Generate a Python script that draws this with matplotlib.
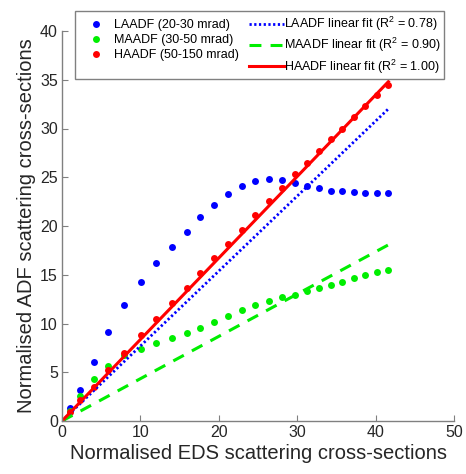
import matplotlib
matplotlib.use("Agg")
import matplotlib.pyplot as plt
import numpy as np

plt.rcParams['font.family'] = ['Liberation Sans', 'DejaVu Sans']
plt.rcParams['mathtext.fontset'] = 'custom'
plt.rcParams['mathtext.rm'] = 'Liberation Sans'
plt.rcParams['mathtext.it'] = 'Liberation Sans:italic'

# EDS cross-sections (x) shared by all series
eds = [0, 1.06, 2.34, 4.04, 5.87, 7.96, 10.13, 12.04, 14.05, 15.96, 17.66, 19.45,
       21.2, 22.9, 24.6, 26.39, 28.1, 29.7, 31.29, 32.77, 34.35, 35.76, 37.24,
       38.65, 40.14, 41.63]
laadf = [0, 1.3, 3.19, 6.09, 9.15, 11.92, 14.29, 16.21, 17.88, 19.42, 20.89, 22.2,
         23.3, 24.15, 24.6, 24.77, 24.67, 24.39, 24.08, 23.87, 23.64, 23.54, 23.45,
         23.42, 23.42, 23.42]
maadf = [0, 1.0, 2.57, 4.28, 5.65, 6.78, 7.43, 8.05, 8.56, 9.01, 9.53, 10.17,
         10.79, 11.34, 11.89, 12.33, 12.67, 12.97, 13.29, 13.62, 13.91, 14.29,
         14.65, 14.98, 15.24, 15.45]
haadf = [0, 0.92, 2.13, 3.5, 5.26, 6.99, 8.8, 10.45, 12.06, 13.6, 15.2, 16.7,
         18.2, 19.6, 21.1, 22.6, 23.9, 25.3, 26.5, 27.7, 28.9, 30.0, 31.2, 32.3,
         33.4, 34.5]

# linear fit slopes (through origin)
slope_l = 0.769
slope_m = 0.434
slope_h = 0.836

labels_pts = ['LAADF (20-30 mrad)', 'MAADF (30-50 mrad)', 'HAADF (50-150 mrad)']
labels_fit = ['LAADF linear fit (R$^2$ = 0.78)', 'MAADF linear fit (R$^2$ = 0.90)',
              'HAADF linear fit (R$^2$ = 1.00)']

blue, green, red = '#0000ff', '#00ee00', '#ff0000'

fig = plt.figure(figsize=(4.66, 4.74), dpi=100)
ax = fig.add_axes([62/466, 1-421/474, (454-62)/466, (421-31)/474])

x = np.array(eds)
xf = np.array([0, eds[-1]])

p1, = ax.plot(x, laadf, 'o', color=blue, ms=5, mec='none')
p2, = ax.plot(x, maadf, 'o', color=green, ms=5, mec='none')
p3, = ax.plot(x, haadf, 'o', color=red, ms=5, mec='none')
f1, = ax.plot(xf, slope_l*xf, color=blue, lw=2.0, linestyle=(0, (0.8, 0.9)))
f2, = ax.plot(xf, slope_m*xf, color=green, lw=2.2, linestyle=(0, (3.9, 3.0)))
f3, = ax.plot(xf, slope_h*xf, color=red, lw=2.2, linestyle='-')

ax.set_xlim(0, 50)
ax.set_ylim(0, 40)
ax.set_xticks(range(0, 51, 10))
ax.set_yticks(range(0, 41, 5))
for s in ['top', 'right']:
    ax.spines[s].set_visible(False)
for s in ['left', 'bottom']:
    ax.spines[s].set_color('#808080')
    ax.spines[s].set_linewidth(1.0)
ax.tick_params(direction='in', length=4, color='#808080', labelsize=11.5, labelcolor='#262626', pad=3)

ax.set_xlabel('Normalised EDS scattering cross-sections', fontsize=14.5, color='#262626', labelpad=3)
ax.set_ylabel('Normalised ADF scattering cross-sections', fontsize=14.5, color='#262626', labelpad=3)

leg = fig.legend([p1, p2, p3, f1, f2, f3], labels_pts + labels_fit, ncol=2,
                 loc='upper left', bbox_to_anchor=(75/466, 1-11/474),
                 bbox_transform=fig.transFigure, fontsize=9, frameon=True,
                 fancybox=False, edgecolor='#808080', framealpha=1,
                 handlelength=2.8, handletextpad=0.0, columnspacing=0.8,
                 labelspacing=0.25, borderpad=0.3, borderaxespad=0)
leg.get_frame().set_linewidth(1.0)

fig.savefig('out.png', dpi=100)
